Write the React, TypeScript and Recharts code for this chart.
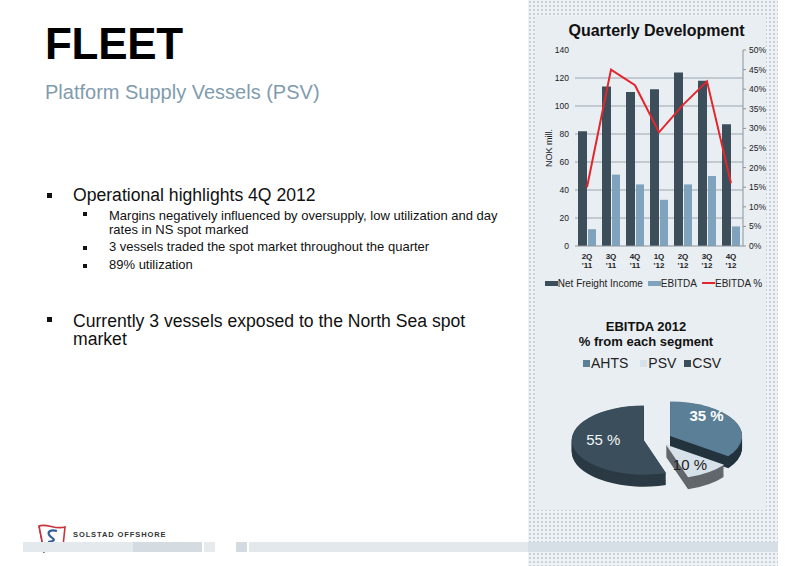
import React from "react";
import {
  ComposedChart,
  Bar,
  Line,
  XAxis,
  YAxis,
  CartesianGrid,
  Legend,
  PieChart,
  Pie,
  Cell,
} from "recharts";

// quarterly development (NOK mill.)
const quarters = ["2Q '11", "3Q '11", "4Q '11", "1Q '12", "2Q '12", "3Q '12", "4Q '12"];
const netFreightIncome = [82, 114, 110, 112, 124, 118, 87];
const ebitda = [12, 51, 44, 33, 44, 50, 14];
const ebitdaPct = [0.15, 0.45, 0.41, 0.29, 0.36, 0.42, 0.16];
const leftTicks = [0, 20, 40, 60, 80, 100, 120, 140];
const rightTicks = [0, 0.05, 0.1, 0.15, 0.2, 0.25, 0.3, 0.35, 0.4, 0.45, 0.5];
const seriesNames = ["Net Freight Income", "EBITDA", "EBITDA %"];

// EBITDA 2012 split
const segments = ["AHTS", "PSV", "CSV"];
const segmentShare = [35, 10, 55];

const FONT = '"Liberation Sans", Arial, sans-serif';
const NFI_COLOR = "#3b4e5a";
const EBITDA_COLOR = "#7fa3bd";
const PCT_COLOR = "#e3262e";
const SEG_TOP = ["#5b7f96", "#d6e1e9", "#3a4e5b"];
const SEG_SIDE = ["#24343e", "#62676c", "#2b3a44"];
const SEG_LABEL = ["#ffffff", "#222222", "#f2f5f7"];

const SQUASH = 0.48;
const PIE_R = 72;
const EXPLODE = 14;
const depthOffsets = Array.from({ length: 13 }, (_, i) => 25 - i * 2);

const barData = quarters.map((q, i) => ({
  name: q,
  nfi: netFreightIncome[i],
  ebitda: ebitda[i],
  pct: ebitdaPct[i],
}));

const pieData = segments.map((s, i) => ({ name: s, value: segmentShare[i] }));
const pieTotal = segmentShare.reduce((a, b) => a + b, 0);
// explode every slice outwards along its middle angle
const explode = segmentShare.map((v, i) => {
  const before = segmentShare.slice(0, i).reduce((a, b) => a + b, 0);
  const theta = ((before + v / 2) / pieTotal) * 2 * Math.PI;
  return `translate(${EXPLODE * Math.sin(theta)},${-EXPLODE * Math.cos(theta)})`;
});

const QuarterTick = (props: any) => {
  const { x, y, payload } = props;
  const [a, b] = String(payload.value).split(" ");
  return (
    <text x={x} y={y} textAnchor="middle" fontSize={8} fontWeight="bold" fill="#222" fontFamily={FONT}>
      <tspan x={x} dy={9}>{a}</tspan>
      <tspan x={x} dy={9}>{b}</tspan>
    </text>
  );
};

const BarLegend = (props: any) => {
  const payload = [...(props.payload || [])].sort(
    (a: any, b: any) => seriesNames.indexOf(a.value) - seriesNames.indexOf(b.value)
  );
  return (
    <div style={{ display: "flex", justifyContent: "center", height: 14, alignItems: "center", fontSize: 10, color: "#222", fontFamily: FONT, whiteSpace: "nowrap" }}>
      {payload.map((p: any) => (
        <span key={p.value} style={{ display: "flex", alignItems: "center", marginRight: 5, flexShrink: 0 }}>
          <span style={{ display: "inline-block", width: 13, height: p.type === "line" ? 2 : 5, background: p.color }} />
          <span>{p.value}</span>
        </span>
      ))}
    </div>
  );
};

const renderPieLabel = (props: any) => {
  const { cx, cy, midAngle, index, value } = props;
  const rad = Math.PI / 180;
  // labels sit on the tilted top face
  const x = cx + 55 * Math.cos(-midAngle * rad);
  const y = cy - 12 + 80 * Math.sin(-midAngle * rad);
  return (
    <text
      transform={`translate(${x},${y}) scale(1,${1 / SQUASH})`}
      textAnchor="middle"
      dominantBaseline="central"
      fill={SEG_LABEL[index]}
      fontSize={15}
      fontWeight={index === 0 ? "bold" : "normal"}
      fontFamily={FONT}
    >
      {`${value} %`}
    </text>
  );
};

const Bullet = ({ x, y, size }: { x: number; y: number; size: number }) => (
  <div style={{ position: "absolute", left: x, top: y, width: size, height: size, background: "#111" }} />
);

const mainText: React.CSSProperties = { position: "absolute", left: 73, fontSize: 17.6, color: "#111", whiteSpace: "nowrap" };
const subText: React.CSSProperties = { position: "absolute", left: 109, fontSize: 13, lineHeight: "14px", color: "#111", whiteSpace: "nowrap" };

export default function App() {
  return (
    <div style={{ position: "absolute", left: 0, top: 0, width: 800, height: 566, overflow: "hidden", background: "#fff", fontFamily: FONT }}>
      {/* right hand panel */}
      <div
        style={{
          position: "absolute", left: 528, top: 0, width: 250, height: 566,
          backgroundColor: "#eef2f5",
          backgroundImage: "radial-gradient(#c6d0d8 0.7px, transparent 1px)",
          backgroundSize: "4px 4px",
        }}
      />
      <div style={{ position: "absolute", left: 535, top: 16, width: 231, height: 494, background: "#e9eef2" }} />

      {/* headings */}
      <div style={{ position: "absolute", left: 45, top: 22, fontSize: 44, lineHeight: 1, fontWeight: "bold", color: "#000", letterSpacing: -0.3 }}>FLEET</div>
      <div style={{ position: "absolute", left: 45, top: 82, fontSize: 20, lineHeight: 1, color: "#7f9cae" }}>Platform Supply Vessels (PSV)</div>

      {/* bullets */}
      <Bullet x={47} y={193} size={5} />
      <div style={{ ...mainText, top: 187.4, lineHeight: 1 }}>Operational highlights 4Q 2012</div>
      <Bullet x={83} y={212} size={4} />
      <Bullet x={83} y={246} size={4} />
      <Bullet x={83} y={264} size={4} />
      <div style={{ ...subText, top: 208.5 }}>
        Margins negatively influenced by oversupply, low utilization and day
        <br />
        rates in NS spot marked
      </div>
      <div style={{ ...subText, top: 240.2 }}>3 vessels traded the spot market throughout the quarter</div>
      <div style={{ ...subText, top: 257.8 }}>89% utilization</div>
      <Bullet x={47} y={317} size={5} />
      <div style={{ ...mainText, top: 311.5, lineHeight: "18.3px" }}>
        Currently 3 vessels exposed to the North Sea spot
        <br />
        market
      </div>

      {/* quarterly chart */}
      <div style={{ position: "absolute", left: 535, width: 231, top: 23, fontSize: 16, lineHeight: 1, fontWeight: "bold", color: "#111", textAlign: "center", paddingLeft: 12, boxSizing: "border-box" }}>
        Quarterly Development
      </div>
      <div style={{ position: "absolute", left: 530, top: 42 }}>
        <ComposedChart
          width={240}
          height={258}
          data={barData}
          margin={{ top: 8, right: 3, bottom: 10, left: 15 }}
          barCategoryGap="10%"
          barGap={1}
        >
          <CartesianGrid yAxisId="left" vertical={false} stroke="#9aa5ad" horizontalValues={leftTicks.slice(1, -1)} />
          <XAxis
            dataKey="name"
            height={30}
            tick={<QuarterTick />}
            tickLine={false}
            tickSize={4}
            tickMargin={0}
            axisLine={{ stroke: "#8a949b" }}
            interval={0}
          />
          <YAxis
            yAxisId="left"
            width={30}
            domain={[0, 140]}
            ticks={leftTicks}
            axisLine={false}
            tickLine={false}
            tickSize={4}
            tickMargin={2}
            tick={{ fontSize: 8.5, fill: "#222", fontFamily: FONT }}
            label={{ value: "NOK mill.", angle: -90, position: "insideLeft", offset: 4, style: { fontSize: 9, fill: "#222", fontFamily: FONT, textAnchor: "middle" } }}
          />
          <YAxis
            yAxisId="right"
            orientation="right"
            width={24}
            domain={[0, 0.5]}
            ticks={rightTicks}
            axisLine={{ stroke: "#8a949b" }}
            tickLine={{ stroke: "#8a949b" }}
            tickSize={3}
            tickMargin={3}
            tick={{ fontSize: 8.5, fill: "#222", fontFamily: FONT }}
            tickFormatter={(v: number) => `${Math.round(v * 100)}%`}
          />
          <Legend content={<BarLegend />} verticalAlign="bottom" />
          <Bar yAxisId="left" dataKey="nfi" name="Net Freight Income" fill={NFI_COLOR} barSize={9} isAnimationActive={false} />
          <Bar yAxisId="left" dataKey="ebitda" name="EBITDA" fill={EBITDA_COLOR} barSize={8} isAnimationActive={false} />
          <Line yAxisId="right" dataKey="pct" name="EBITDA %" stroke={PCT_COLOR} strokeWidth={2} dot={false} type="linear" isAnimationActive={false} />
        </ComposedChart>
      </div>

      {/* pie chart */}
      <div style={{ position: "absolute", left: 535, width: 222, top: 319, fontSize: 13, lineHeight: "15px", fontWeight: "bold", color: "#111", textAlign: "center" }}>
        EBITDA 2012
        <br />
        % from each segment
      </div>
      <div style={{ position: "absolute", left: 583, top: 355, display: "flex", alignItems: "center", fontSize: 14, color: "#222", whiteSpace: "nowrap" }}>
        {segments.map((s, i) => (
          <span key={s} style={{ display: "flex", alignItems: "center", marginRight: i === 0 ? 12 : 8 }}>
            <span style={{ display: "inline-block", width: 7, height: 7, background: SEG_TOP[i], marginRight: 1 }} />
            {s}
          </span>
        ))}
      </div>
      <div style={{ position: "absolute", left: 535, top: 380, width: 230, height: 130 }}>
        <div style={{ transform: `scaleY(${SQUASH})`, transformOrigin: "0 0" }}>
          <PieChart width={230} height={271}>
            {depthOffsets.map((d) => (
              <Pie
                key={d}
                data={pieData}
                dataKey="value"
                nameKey="name"
                cx={117.6}
                cy={118 + d}
                outerRadius={PIE_R}
                startAngle={90}
                endAngle={-270}
                stroke="none"
                legendType="none"
                isAnimationActive={false}
              >
                {pieData.map((p, i) => (
                  <Cell key={p.name} fill={SEG_SIDE[i]} transform={explode[i]} />
                ))}
              </Pie>
            ))}
            <Pie
              data={pieData}
              dataKey="value"
              nameKey="name"
              cx={117.6}
              cy={118}
              outerRadius={PIE_R}
              startAngle={90}
              endAngle={-270}
              stroke="none"
              label={renderPieLabel}
              labelLine={false}
              isAnimationActive={false}
            >
              {pieData.map((p, i) => (
                <Cell key={p.name} fill={SEG_TOP[i]} transform={explode[i]} />
              ))}
            </Pie>
          </PieChart>
        </div>
      </div>

      {/* footer */}
      <svg style={{ position: "absolute", left: 35, top: 522 }} width={34} height={32}>
        <line x1={4} y1={4} x2={9} y2={31} stroke="#333" strokeWidth={1.2} />
        <path d="M4 4 C12 1 20 8 30 5 L28 24 C20 27 12 20 8 24 Z" fill="#fff" stroke="#c8323a" strokeWidth={1.6} />
        <path d="M22 9 C16 7 11 10 15 14 C19 17 22 19 13 20" fill="none" stroke="#2f5f9a" strokeWidth={2.2} />
      </svg>
      <div style={{ position: "absolute", left: 73, top: 531, fontSize: 7.5, lineHeight: 1, fontWeight: "bold", letterSpacing: 0.9, color: "#333" }}>
        SOLSTAD OFFSHORE
      </div>
      <div style={{ position: "absolute", left: 23, top: 542, width: 110, height: 10, background: "#e4e9ed" }} />
      <div style={{ position: "absolute", left: 133, top: 542, width: 69, height: 10, background: "#d4dbe1" }} />
      <div style={{ position: "absolute", left: 204, top: 542, width: 11, height: 10, background: "#e6eaed" }} />
      <div style={{ position: "absolute", left: 236, top: 542, width: 11, height: 10, background: "#d3dae0" }} />
      <div style={{ position: "absolute", left: 249, top: 542, width: 279, height: 10, background: "#e3e8ec" }} />
      <div style={{ position: "absolute", left: 528, top: 542, width: 250, height: 10, background: "#d6dfe6" }} />
    </div>
  );
}
